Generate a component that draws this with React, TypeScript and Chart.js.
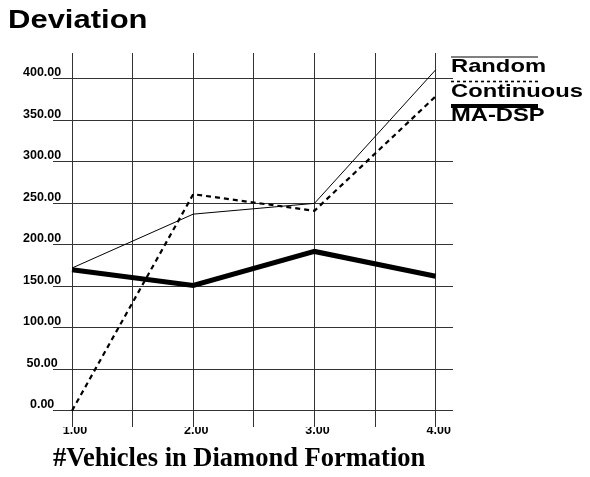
import React, { useEffect, useRef } from 'react';
import { Chart, registerables } from 'chart.js';

Chart.register(...registerables);

const xValues = [1, 2, 3, 4];
const randomSeries = [172, 237, 250, 411];
const continuousSeries = [0, 261, 241, 379];
const maDspSeries = [170, 151, 192, 162];
const seriesNames = ['Random', 'Continuous', 'MA-DSP'];
const xTickValues = [1, 1.5, 2, 2.5, 3, 3.5, 4];
const yTickValues = [0, 50, 100, 150, 200, 250, 300, 350, 400];
const chartTitle = 'Deviation';
const xAxisTitle = '#Vehicles in Diamond Formation';

const SANS = '"Liberation Sans", Arial, Helvetica, sans-serif';
const SERIF = '"Liberation Serif", "Times New Roman", serif';

const legendStyles = [
  { width: 1, dash: [] as number[] },
  { width: 1.6, dash: [3, 3] },
  { width: 4, dash: [] as number[] },
];

const textPlugin = {
  id: 'textPlugin',
  afterDraw(chart: any) {
    const ctx = chart.ctx as CanvasRenderingContext2D;
    ctx.save();
    ctx.fillStyle = '#000';
    ctx.textBaseline = 'alphabetic';
    ctx.textAlign = 'left';
    ctx.font = `bold 25px ${SANS}`;
    ctx.translate(8, 28);
    ctx.scale(1.24, 1);
    ctx.fillText(chartTitle, 0, 0);
    ctx.restore();

    chart.data.datasets.forEach((ds: any, i: number) => {
      const baseY = 72 + i * 24.5;
      const lineY = baseY - 15;
      const st = legendStyles[i];
      ctx.save();
      ctx.strokeStyle = '#000';
      ctx.lineWidth = st.width;
      ctx.setLineDash(st.dash);
      ctx.beginPath();
      ctx.moveTo(451, lineY);
      ctx.lineTo(538, lineY);
      ctx.stroke();
      ctx.restore();

      ctx.save();
      ctx.fillStyle = '#000';
      ctx.textBaseline = 'alphabetic';
      ctx.textAlign = 'left';
      ctx.font = `bold 19px ${SANS}`;
      ctx.translate(451, baseY);
      ctx.scale(1.25, 1);
      ctx.fillText(ds.label, 0, 0);
      ctx.restore();
    });
  },
};

export default function App() {
  const ref = useRef<HTMLCanvasElement>(null);

  useEffect(() => {
    if (!ref.current) return;
    const toPts = (arr: number[]) => arr.map((v, i) => ({ x: xValues[i], y: v }));
    const chart = new Chart(ref.current, {
      type: 'line',
      data: {
        datasets: [
          {
            label: seriesNames[0],
            data: toPts(randomSeries),
            borderColor: '#000',
            borderWidth: 1,
            pointRadius: 0,
            fill: false,
          },
          {
            label: seriesNames[1],
            data: toPts(continuousSeries),
            borderColor: '#000',
            borderWidth: 2.2,
            borderDash: [5, 4],
            pointRadius: 0,
            fill: false,
          },
          {
            label: seriesNames[2],
            data: toPts(maDspSeries),
            borderColor: '#000',
            borderWidth: 5,
            pointRadius: 0,
            fill: false,
          },
        ],
      },
      options: {
        animation: false,
        responsive: false,
        layout: { padding: { left: 8, right: 137, top: 53, bottom: 0 } },
        plugins: {
          legend: { display: false },
          title: { display: false },
          tooltip: { enabled: false },
        },
        elements: { line: { tension: 0 } },
        scales: {
          x: {
            type: 'linear',
            min: 0.843,
            max: 4.143,
            afterBuildTicks: (s: any) => {
              s.ticks = xTickValues.map((v) => ({ value: v }));
            },
            afterFit: (s: any) => {
              s.height = 50;
            },
            grid: { color: '#333', lineWidth: 1, drawTicks: false },
            border: { display: false },
            ticks: {
              padding: -4,
              labelOffset: 3,
              color: '#000',
              autoSkip: false,
              maxRotation: 0,
              font: { family: SANS, size: 12.5, weight: 'bold' },
              callback: (v: any) => (Number.isInteger(Number(v)) ? Number(v).toFixed(2) : ''),
            },
            title: {
              display: true,
              text: xAxisTitle,
              align: 'start',
              color: '#000',
              font: { family: SERIF, size: 26.5, weight: 'bold', lineHeight: 1 },
              padding: { top: 0, bottom: 5 },
            },
          },
          y: {
            type: 'linear',
            min: -19.7,
            max: 431.3,
            afterBuildTicks: (s: any) => {
              s.ticks = yTickValues.map((v) => ({ value: v }));
            },
            afterFit: (s: any) => {
              s.width = 45;
            },
            grid: { color: '#333', lineWidth: 1, drawTicks: false },
            border: { display: false },
            ticks: {
              mirror: true,
              padding: -30,
              crossAlign: 'center',
              labelOffset: -6,
              color: '#000',
              font: { family: SANS, size: 12.5, weight: 'bold' },
              callback: (v: any) => Number(v).toFixed(2),
            },
          },
        },
      } as any,
      plugins: [textPlugin],
    });
    return () => chart.destroy();
  }, []);

  return (
    <div style={{ position: 'absolute', left: 0, top: 0, width: 590, height: 477, background: '#fff' }}>
      <canvas ref={ref} width={590} height={477} style={{ display: 'block' }} />
    </div>
  );
}
